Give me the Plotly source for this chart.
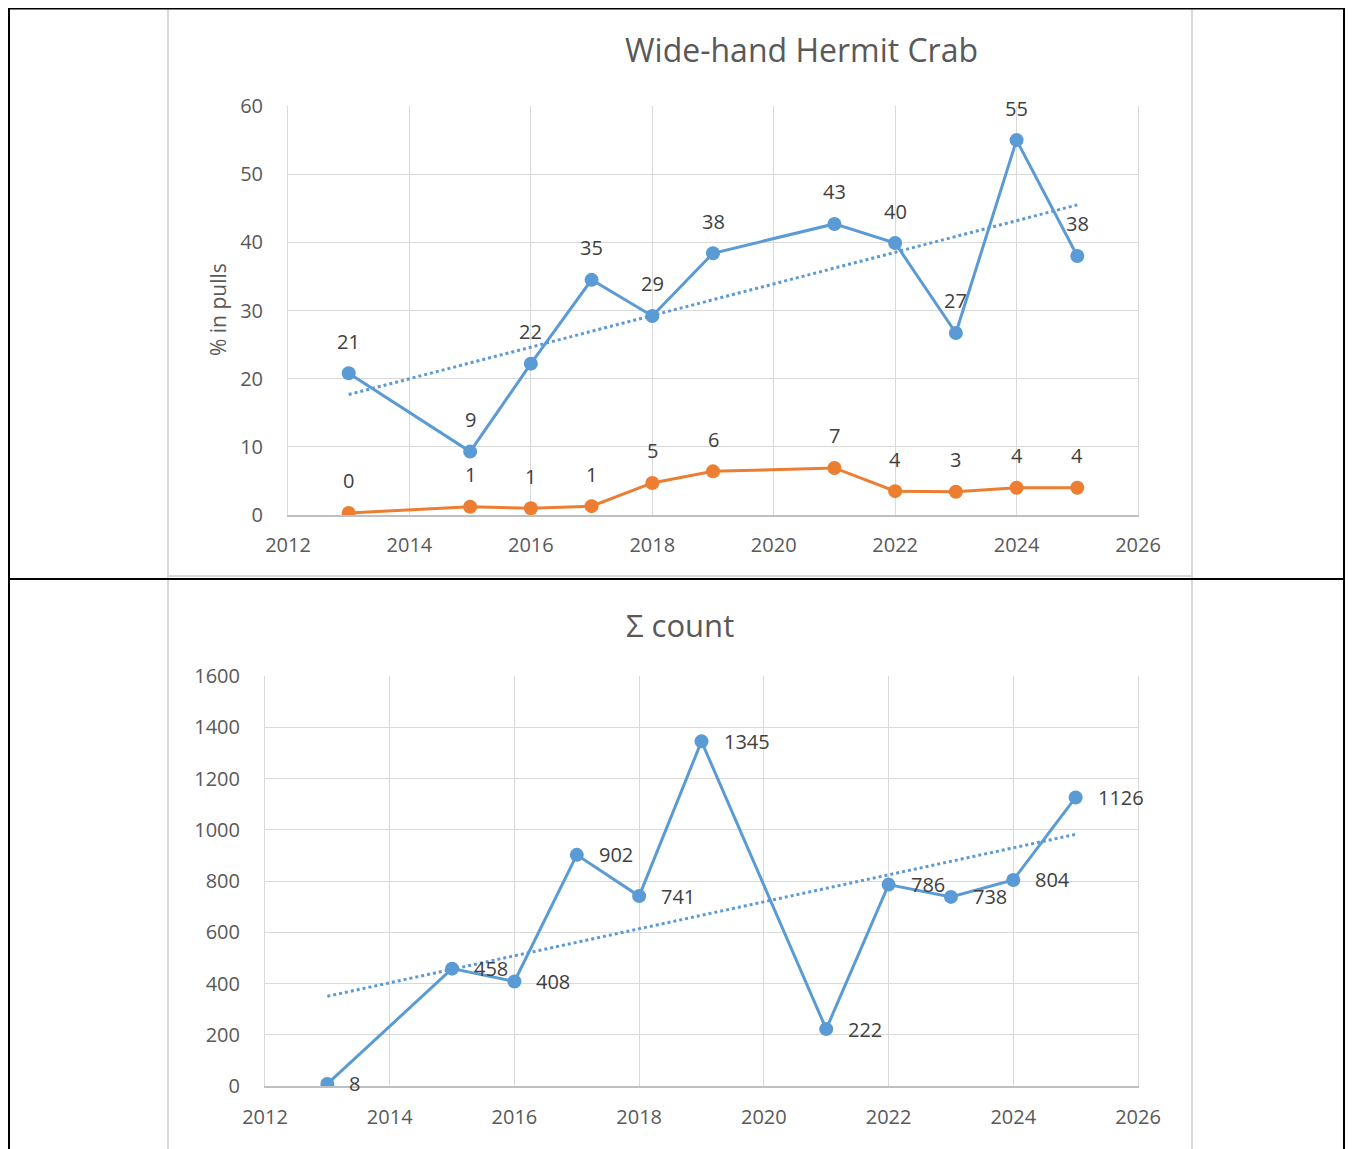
import numpy as np
import plotly.graph_objects as go

# ---------------- data ----------------
years_top = [2013, 2015, 2016, 2017, 2018, 2019, 2021, 2022, 2023, 2024, 2025]
pct_blue = [20.8, 9.3, 22.2, 34.5, 29.2, 38.4, 42.7, 39.9, 26.7, 55.0, 38.0]
pct_blue_labels = ["21", "9", "22", "35", "29", "38", "43", "40", "27", "55", "38"]
pct_orange = [0.3, 1.2, 1.0, 1.3, 4.7, 6.4, 6.9, 3.5, 3.4, 4.0, 4.0]
pct_orange_labels = ["0", "1", "1", "1", "5", "6", "7", "4", "3", "4", "4"]

years_bot = [2013, 2015, 2016, 2017, 2018, 2019, 2021, 2022, 2023, 2024, 2025]
counts = [8, 458, 408, 902, 741, 1345, 222, 786, 738, 804, 1126]
count_labels = ["8", "458", "408", "902", "741", "1345", "222", "786", "738", "804", "1126"]

title_top = "Wide-hand Hermit Crab"
title_bot = "Σ count"
ytitle_top = "% in pulls"

# ---------------- style ----------------
OFF = 8  # page body margin
W, H = 1353, 1149
BLUE = "#5B9BD5"
ORANGE = "#ED7D31"
GRID = "#D9D9D9"
TXT = "#595959"
LBL = "#404040"
FONT = "Open Sans"


def px(x):
    return (x - OFF) / W


def py(y):
    return 1 - (y - OFF) / H


def trend(xs, ys):
    b, a = np.polyfit(xs, ys, 1)
    xt = [xs[0], xs[-1]]
    return xt, [a + b * x for x in xt]


fig = go.Figure()

# top chart
tx, ty = trend(years_top, pct_blue)
fig.add_trace(go.Scatter(x=tx, y=ty, mode="lines", line=dict(color=BLUE, width=3, dash="dot"),
                         xaxis="x", yaxis="y", hoverinfo="skip", showlegend=False))
fig.add_trace(go.Scatter(x=years_top, y=pct_orange, mode="lines+markers",
                         line=dict(color=ORANGE, width=3), marker=dict(size=14, color=ORANGE),
                         xaxis="x", yaxis="y", showlegend=False))
fig.add_trace(go.Scatter(x=years_top, y=pct_blue, mode="lines+markers",
                         line=dict(color=BLUE, width=3), marker=dict(size=14, color=BLUE),
                         xaxis="x", yaxis="y", showlegend=False))

# bottom chart
tx2, ty2 = trend(years_bot, counts)
fig.add_trace(go.Scatter(x=tx2, y=ty2, mode="lines", line=dict(color=BLUE, width=3, dash="dot"),
                         xaxis="x2", yaxis="y2", hoverinfo="skip", showlegend=False))
fig.add_trace(go.Scatter(x=years_bot, y=counts, mode="lines+markers",
                         line=dict(color=BLUE, width=3), marker=dict(size=14, color=BLUE),
                         xaxis="x2", yaxis="y2", showlegend=False))

annotations = []
for x, y, t in zip(years_top, pct_blue, pct_blue_labels):
    annotations.append(dict(x=x, y=y, xref="x", yref="y", text=t, showarrow=False, yshift=32,
                            xanchor="center", yanchor="middle",
                            font=dict(family=FONT, size=20, color=LBL)))
for x, y, t in zip(years_top, pct_orange, pct_orange_labels):
    annotations.append(dict(x=x, y=y, xref="x", yref="y", text=t, showarrow=False, yshift=32,
                            xanchor="center", yanchor="middle",
                            font=dict(family=FONT, size=20, color=LBL)))
for x, y, t in zip(years_bot, counts, count_labels):
    annotations.append(dict(x=x, y=y, xref="x2", yref="y2", text=t, showarrow=False,
                            xanchor="left", yanchor="middle", xshift=20,
                            font=dict(family=FONT, size=20, color=LBL)))

annotations.append(dict(x=px(801), y=py(50), xref="paper", yref="paper", text=title_top,
                        xanchor="center", yanchor="middle",
                        showarrow=False, font=dict(family=FONT, size=32, color=TXT)))
annotations.append(dict(x=px(680), y=py(625), xref="paper", yref="paper", text=title_bot,
                        xanchor="center", yanchor="middle",
                        showarrow=False, font=dict(family=FONT, size=31, color=TXT)))
annotations.append(dict(x=px(218), y=py(310), xref="paper", yref="paper", text=ytitle_top,
                        xanchor="center", yanchor="middle",
                        textangle=-90, showarrow=False, font=dict(family=FONT, size=21, color=TXT)))

shapes = [
    # grey chart frames
    dict(type="line", xref="paper", yref="paper", x0=px(168), x1=px(168), y0=py(8), y1=-0.02,
         line=dict(color=GRID, width=2)),
    dict(type="line", xref="paper", yref="paper", x0=px(1192), x1=px(1192), y0=py(8), y1=-0.02,
         line=dict(color=GRID, width=2)),
    dict(type="line", xref="paper", yref="paper", x0=px(168), x1=px(1192), y0=py(576), y1=py(576),
         line=dict(color=GRID, width=2)),
    # black table borders
    dict(type="line", xref="paper", yref="paper", x0=px(9), x1=px(9), y0=py(7.5), y1=-0.02,
         line=dict(color="black", width=2)),
    dict(type="line", xref="paper", yref="paper", x0=px(1344), x1=px(1344), y0=py(7.5), y1=-0.02,
         line=dict(color="black", width=2)),
    dict(type="line", xref="paper", yref="paper", x0=px(8), x1=px(1352), y0=py(8.5), y1=py(8.5),
         line=dict(color="black", width=2)),
    dict(type="line", xref="paper", yref="paper", x0=px(8), x1=px(1352), y0=py(579), y1=py(579),
         line=dict(color="black", width=2)),
]

tickfont = dict(family=FONT, size=20, color=TXT)

xcommon = dict(range=[2012, 2026], dtick=2, tick0=2012, showgrid=True, gridcolor=GRID, gridwidth=1,
               zeroline=False, showline=True, linecolor="#BFBFBF", linewidth=1.5,
               tickfont=tickfont, ticks="", fixedrange=True, automargin=False)
ycommon = dict(showgrid=True, gridcolor=GRID, gridwidth=1, zeroline=False, showline=True,
               mirror=True, linecolor=GRID, linewidth=1, tickfont=tickfont, ticks="",
               fixedrange=True, automargin=False)

fig.update_layout(
    width=W, height=H,
    margin=dict(l=0, r=0, t=0, b=0, pad=0, autoexpand=False),
    paper_bgcolor="white", plot_bgcolor="white",
    showlegend=False,
    xaxis=dict(xcommon, domain=[px(288), px(1138)], anchor="y", ticklabelstandoff=11),
    yaxis=dict(ycommon, domain=[py(515), py(106)], anchor="x", range=[0, 60], dtick=10,
               ticklabelstandoff=20),
    xaxis2=dict(xcommon, domain=[px(265), px(1138)], anchor="y2", ticklabelstandoff=12),
    yaxis2=dict(ycommon, domain=[py(1086), py(676)], anchor="x2", range=[0, 1600], dtick=200,
                ticklabelstandoff=20),
    annotations=annotations,
    shapes=shapes,
)

fig.write_html("out.html")
